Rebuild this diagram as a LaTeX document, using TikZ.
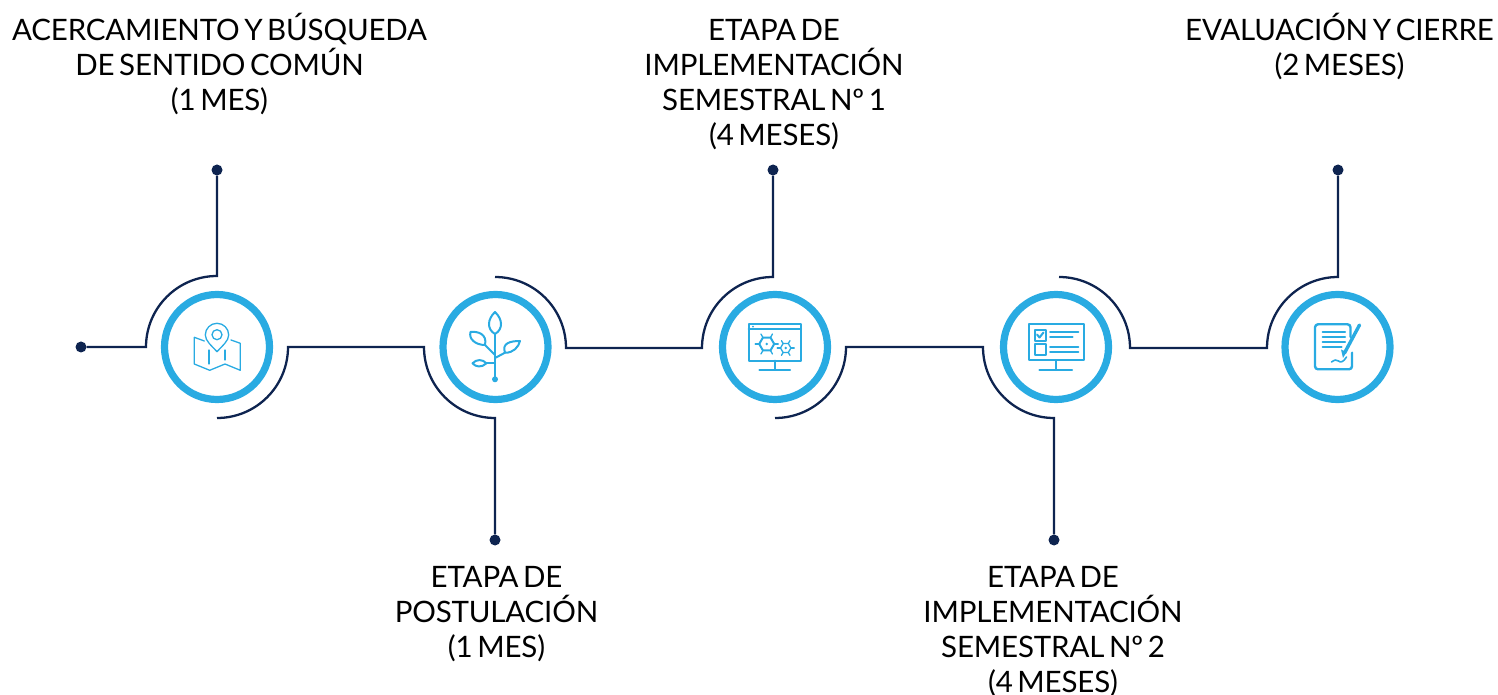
\documentclass[tikz,border=0pt]{standalone}
\usepackage{fontspec}
\setmainfont{Lato}[WordSpace=0.62,LetterSpace=-0.6]
\usetikzlibrary{calc}
\definecolor{navy}{HTML}{0E2450}
\definecolor{sky}{HTML}{29ABE2}
\tikzset{
  x=1pt,y=1pt,
  wire/.style={draw=navy,line width=2.3pt},
  enddot/.style={circle,fill=navy,inner sep=0pt,minimum size=11pt},
  ring/.style={circle,draw=sky,line width=7.2pt,minimum size=105pt,inner sep=0pt},
  caption/.style={align=center,font=\fontsize{29.5}{35}\selectfont,text=black,inner sep=0pt,anchor=north},
  ic/.style={draw=sky,line width=1.3pt,line join=round,line cap=round},
  icb/.style={draw=sky,line width=2pt,line join=round,line cap=round}
}
\begin{document}
\begin{tikzpicture}
\useasboundingbox (0,0) rectangle (1498,694);
% rings
\node[ring] (r1) at (217,347) {};
\node[ring] (r2) at (495.5,347) {};
\node[ring] (r3) at (775,347) {};
\node[ring] (r4) at (1056,347) {};
\node[ring] (r5) at (1337.5,347) {};
% end dots
\node[enddot] (d0) at (81,347) {};
\node[enddot] (d1) at (217,524) {};
\node[enddot] (d2) at (495,154) {};
\node[enddot] (d3) at (773,524) {};
\node[enddot] (d4) at (1054,154) {};
\node[enddot] (d5) at (1338,524) {};
% arc end coordinates
\coordinate (a1w) at (146,347);
\coordinate (b1s) at (217,276);
\coordinate (a2w) at (424,347);
\coordinate (b2n) at (495,417);
\coordinate (a3w) at (702,346);
\coordinate (b3s) at (775,276);
\coordinate (a4w) at (983,347);
\coordinate (b4n) at (1059,417);
\coordinate (a5w) at (1267,346);
% connectors
\draw[wire] (d0) -- (a1w) arc[start angle=180,end angle=90,radius=71] -- (d1);
\draw[wire] (b1s) arc[start angle=-90,end angle=0,radius=71] -- (a2w) arc[start angle=180,end angle=270,radius=71] -- (d2);
\draw[wire] (b2n) arc[start angle=90,end angle=0,radius=71] -- (a3w) arc[start angle=180,end angle=90,radius=71] -- (d3);
\draw[wire] (b3s) arc[start angle=-90,end angle=0,radius=71] -- (a4w) arc[start angle=180,end angle=270,radius=71] -- (d4);
\draw[wire] (b4n) arc[start angle=90,end angle=0,radius=71] -- (a5w) arc[start angle=180,end angle=90,radius=71] -- (d5);
% captions
\node[caption] (t1) at (219.5,681) {ACERCAMIENTO Y BÚSQUEDA\\DE SENTIDO COMÚN\\(1 MES)};
\node[caption] (t2) at (496.5,128) {ETAPA DE\\POSTULACIÓN\\(1 MES)};
\node[caption] (t3) at (774,675) {ETAPA DE\\IMPLEMENTACIÓN\\SEMESTRAL Nº 1\\(4 MESES)};
\node[caption] (t4) at (1053,128) {ETAPA DE\\IMPLEMENTACIÓN\\SEMESTRAL Nº 2\\(4 MESES)};
\node[caption] (t5) at (1339.5,681) {EVALUACIÓN Y CIERRE\\(2 MESES)};
% icon 1: map
\begin{scope}[shift={(217,347)}]
\draw[ic] (0,-4.7) .. controls (-5,1) and (-11.7,6) .. (-11.7,12) arc[start angle=180,end angle=0,radius=11.7] .. controls (11.7,6) and (5,1) .. (0,-4.7) -- cycle;
\draw[ic] (0,12.3) circle[radius=5];
\draw[ic] (-12.7,6) -- (-22.7,9.7) -- (-22.7,-17) -- (-7.3,-23.3) -- (8,-17) -- (23.3,-23.3) -- (23.3,3.7) -- (14,7);
\draw[ic] (-8,-3) -- (-8,-17);
\draw[ic] (8,-3) -- (8,-13);
\end{scope}
% icon 2: plant
\begin{scope}[shift={(495.5,347)}]
\draw[icb] (-.5,13) -- (-.5,-32);
\fill[sky] (-.5,-32.3) circle[radius=3];
\draw[icb] (-.5,13) .. controls (-9,18) and (-8,28) .. (-.5,35) .. controls (7,28) and (8,18) .. (-.5,13) -- cycle;
\draw[icb] (-.5,-8) -- (-10.5,2);
\draw[icb] (-10.5,2) .. controls (-20,2) and (-27,8) .. (-25,15) .. controls (-18,16) and (-8,13) .. (-10.5,2) -- cycle;
\draw[icb] (-.5,-11) -- (9.5,-5.7);
\draw[icb] (9.5,-5.7) .. controls (18,-6) and (23,0) .. (24.5,6) .. controls (15,6) and (6,4) .. (9.5,-5.7) -- cycle;
\draw[icb] (-.5,-16.3) -- (-9,-16.3);
\draw[icb] (-9,-16.3) .. controls (-14,-21) and (-20,-20) .. (-23,-16.3) .. controls (-19,-12) and (-13,-12) .. (-9,-16.3) -- cycle;
\end{scope}
% icon 3: monitor with gears
\begin{scope}[shift={(775,347)}]
\draw[icb] (-26.3,23.3) rectangle (26,-13.7);
\draw[icb] (-26.3,17.7) -- (26,17.7);
\fill[sky] (-22,20.4) circle[radius=1];
\draw[icb] (0,-13.7) -- (0,-23);
\draw[icb] (-15.7,-23) -- (15,-23);
\draw[icb] (-8.3,3) ++(0:7.5) -- ++(120:7.5) -- ++(180:7.5) -- ++(240:7.5) -- ++(300:7.5) -- ++(0:7.5) -- cycle;
\fill[sky] (-8.3,3) circle[radius=1.3];
\foreach \a in {0,60,...,300}{\draw[ic] ($(-8.3,3)+(\a:7.5)$) -- ($(-8.3,3)+(\a:11.5)$);}
\draw[ic] (10.7,-1) ++(0:5.2) -- ++(120:5.2) -- ++(180:5.2) -- ++(240:5.2) -- ++(300:5.2) -- ++(0:5.2) -- cycle;
\fill[sky] (10.7,-1) circle[radius=1.3];
\foreach \a in {0,60,...,300}{\draw[ic] ($(10.7,-1)+(\a:5.2)$) -- ($(10.7,-1)+(\a:8.5)$);}
\end{scope}
% icon 4: monitor with checklist
\begin{scope}[shift={(1056,347)}]
\draw[icb] (-27.3,23.3) rectangle (28,-13);
\draw[icb] (0,-13) -- (0,-23);
\draw[icb] (-16.7,-23) -- (16,-23);
\draw[icb] (-21.3,17) rectangle (-10.3,6.3);
\draw[icb] (-19,12.5) -- (-16.5,9.5) -- (-12.5,14.5);
\draw[icb] (-21.3,2.7) rectangle (-10.3,-8.3);
\draw[icb] (-6,15) -- (22.3,15);
\draw[icb] (-6,9.7) -- (16.7,9.7);
\draw[icb] (-6,.3) -- (22.3,.3);
\draw[icb] (-6,-4.7) -- (22.3,-4.7);
\end{scope}
% icon 5: document and pen
\begin{scope}[shift={(1337.5,347)}]
\draw[icb,line width=2.4pt] (13,10) -- (13,19.7) arc[start angle=0,end angle=90,radius=3] -- (-19.5,22.7) arc[start angle=90,end angle=180,radius=3] -- (-22.5,-19.3) arc[start angle=180,end angle=270,radius=3] -- (11.5,-22.3) arc[start angle=-90,end angle=0,radius=3] -- (14.5,-5.7);
\draw[icb] (-15,15.3) -- (7.5,15.3);
\draw[icb] (-15,10.3) -- (7.5,10.3);
\draw[icb] (-15,5.3) -- (7.5,5.3);
\draw[icb] (-15,0) -- (4,0);
\draw[sky,line width=3.4pt,line cap=round] (22,22) -- (7,-6);
\fill[sky] (9,-5) -- (3.5,-2.5) -- (5.5,-11) -- cycle;
\draw[icb,line width=1.6pt] (-6,-15) .. controls (-3,-13) and (-1,-12) .. (1,-14) .. controls (3,-16) and (6,-15) .. (9,-10);
\end{scope}
\end{tikzpicture}
\end{document}
